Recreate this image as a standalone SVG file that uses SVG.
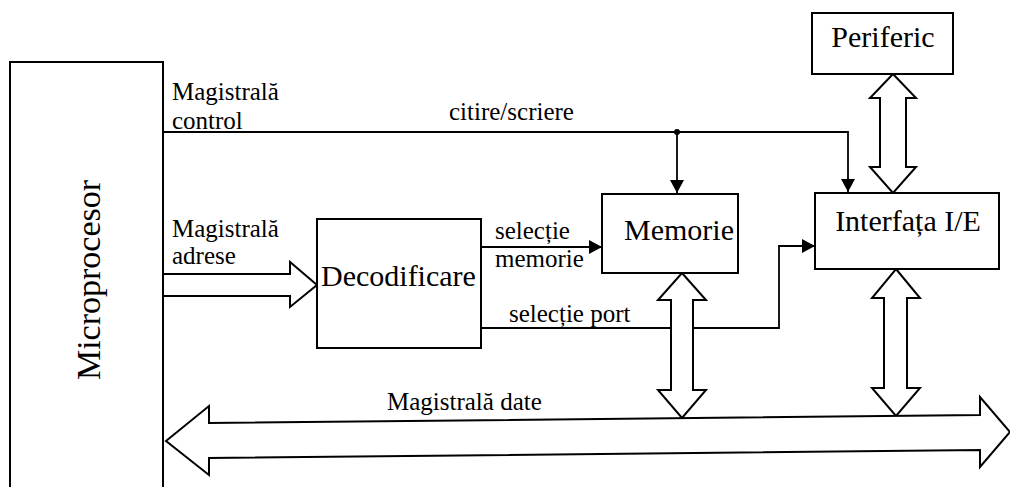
<svg xmlns="http://www.w3.org/2000/svg" width="1010" height="487" viewBox="0 0 1010 487">
<style>
.box{fill:#fff;stroke:#000;stroke-width:2}
.ln{fill:none;stroke:#000;stroke-width:1.8}
.bus{fill:#fff;stroke:#000;stroke-width:2;stroke-linejoin:miter}
text{font-family:'Liberation Serif',serif;fill:#000}
.big{font-size:30px}
.lbl{font-size:25px}
</style>
<defs>
<marker id="ah" markerWidth="14" markerHeight="14" refX="13" refY="7" orient="auto" markerUnits="userSpaceOnUse">
<path d="M0,0 L13,7 L0,14 Z" fill="#000"/>
</marker>
</defs>
<rect width="1010" height="487" fill="#fff"/>
<g id="microprocesor">
<rect class="box" x="10" y="62" width="153" height="440"/>
<text font-family="Liberation Serif, serif" font-size="34" transform="translate(100,280) rotate(-90)" text-anchor="middle">Microprocesor</text>
</g>
<g id="connectors">
<path class="ln" d="M163,132 L848,132 L848,192" marker-end="url(#ah)"/>
<path class="ln" d="M677,132 L677,193" marker-end="url(#ah)"/>
<circle cx="677" cy="132" r="3" fill="#000"/>
<path class="ln" d="M481,247 L602,247" marker-end="url(#ah)"/>
<path class="ln" d="M481,328 L779,328 L779,246 L815,246" marker-end="url(#ah)"/>
<polygon class="bus" points="163,274 290,274 290,262 317,285 290,307 290,296 163,296"/>
<polygon class="bus" points="893,74 916,98 906,98 906,167 916,167 893,193 870,167 880,167 880,98 870,98"/>
<polygon class="bus" points="682,273 706,300 693,300 693,390 706,390 682,418 658,390 671,390 671,300 658,300"/>
<polygon class="bus" points="896,269 920,298 907,298 907,388 920,388 896,416 872,388 884,388 884,298 872,298"/>
<polygon class="bus" points="166,441 209,406 209,423 980,415 980,397 1010,432 980,467 980,450 209,458 209,475"/>
</g>
<g id="labels" font-family="Liberation Serif, serif" font-size="25">
<text class="lbl" x="172" y="100">Magistrală</text>
<text class="lbl" x="172" y="129">control</text>
<text class="lbl" x="449" y="120">citire/scriere</text>
<text class="lbl" x="172" y="237">Magistrală</text>
<text class="lbl" x="172" y="264">adrese</text>
<text class="lbl" x="495" y="239">selecție</text>
<text class="lbl" x="495" y="267">memorie</text>
<text class="lbl" x="509" y="322">selecție port</text>
<text class="lbl" x="387" y="410">Magistrală date</text>
</g>
<g id="decodificare" font-family="Liberation Serif, serif" font-size="30">
<rect class="box" x="317" y="219" width="164" height="129"/>
<text class="big" x="321" y="286">Decodificare</text>
</g>
<g id="memorie" font-family="Liberation Serif, serif" font-size="30">
<rect class="box" x="602" y="194" width="136" height="79"/>
<text class="big" x="679" y="240" text-anchor="middle">Memorie</text>
</g>
<g id="interfata" font-family="Liberation Serif, serif" font-size="30">
<rect class="box" x="815" y="193" width="184" height="76"/>
<text class="big" x="908" y="231" text-anchor="middle">Interfața I/E</text>
</g>
<g id="periferic" font-family="Liberation Serif, serif" font-size="30">
<rect class="box" x="812" y="13" width="141" height="61"/>
<text class="big" x="883" y="47" text-anchor="middle">Periferic</text>
</g>
</svg>
